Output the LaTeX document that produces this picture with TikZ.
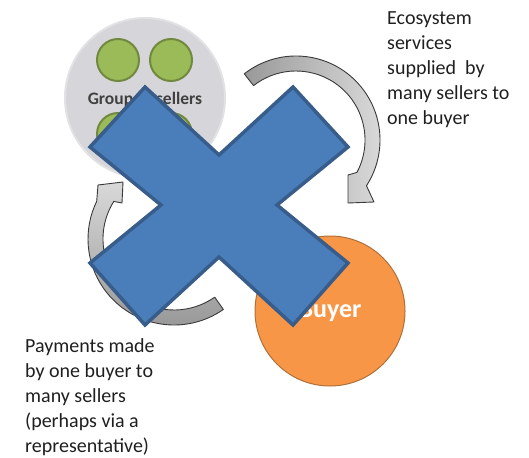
\documentclass[tikz,border=0pt]{standalone}
\usepackage{fontspec}
\setmainfont{Carlito}
\usetikzlibrary{calc}

\definecolor{groupgrey}{HTML}{D6D6DA}
\definecolor{grouprim}{HTML}{E2E2E5}
\definecolor{sellergreen}{HTML}{9BBB59}
\definecolor{sellerrim}{HTML}{71893F}
\definecolor{buyerorange}{HTML}{F79646}
\definecolor{buyerrim}{HTML}{B0703A}
\definecolor{crossblue}{HTML}{4A7EBB}
\definecolor{crossrim}{HTML}{385D8A}
\definecolor{flowrim}{HTML}{3A3A3A}

\begin{document}
\begin{tikzpicture}[x=1pt,y=-1pt,
  group/.style={circle,fill=groupgrey,draw=grouprim,line width=2pt,minimum size=160pt,inner sep=0pt},
  seller/.style={circle,fill=sellergreen,draw=sellerrim,line width=2pt,minimum size=42pt,inner sep=0pt},
  buyer/.style={circle,fill=buyerorange,draw=buyerrim,line width=1pt,minimum size=150pt,inner sep=0pt,
    text=white,font=\bfseries\fontsize{26}{30}\selectfont},
  grouplabel/.style={anchor=base,inner sep=0pt,text=black!75,font=\bfseries\fontsize{17.5}{20}\selectfont},
  note/.style={anchor=north west,align=left,inner sep=0pt,text=black!88,font=\fontsize{20}{25}\selectfont},
  supply/.style={draw=flowrim,line width=0.9pt,line join=round,left color=black!40,right color=black!14},
  pay/.style={draw=flowrim,line width=0.9pt,line join=round,top color=black!15,bottom color=black!42},
  cross/.style={fill=crossblue,draw=crossrim,line width=3.5pt,line join=miter}]

  \useasboundingbox (0,0) rectangle (529,457);

  \node[group]	(group)		at (145,98)	{};
  \node[seller]	(seller-a)	at (118,60)	{};
  \node[seller]	(seller-b)	at (171,60)	{};
  \node[seller]	(seller-c)	at (118,134)	{};
  \node[seller]	(seller-d)	at (171,134)	{};
  \node[grouplabel] (group-label) at (145,105)	{Group of sellers};

  \node[buyer]	(buyer)		at (330,311)	{Buyer};

  \coordinate (supply-c)	at (296,140);
  \coordinate (pay-c)		at (174,239);

  \draw[supply] ($(supply-c)+(-128:84)$) arc[start angle=-128,end angle=33,radius=84]
    -- (374,202) -- (348,203) -- (348,175) -- ($(supply-c)+(28:69)$)
    arc[start angle=28,end angle=-128,radius=69] -- cycle;

  \draw[pay] ($(pay-c)+(55:86)$) arc[start angle=55,end angle=206,radius=86]
    -- (98,185) -- (123,182) -- (122,203) -- ($(pay-c)+(212:71)$)
    arc[start angle=212,end angle=55,radius=71] -- cycle;

  \node[note]	(supply-note)	at (387,11)	{Ecosystem\\services\\supplied\ \ by\\many sellers to\\one buyer};
  \node[note]	(pay-note)	at (25,338)	{Payments made\\by one buyer to\\many sellers\\(perhaps via a\\representative)};

  \draw[cross] (219,155) -- (145,87) -- (90,147) -- (161,205) -- (90,263) -- (145,325)
    -- (219,257) -- (293,325) -- (348,263) -- (277,205) -- (348,147) -- (293,87) -- cycle;
\end{tikzpicture}
\end{document}
